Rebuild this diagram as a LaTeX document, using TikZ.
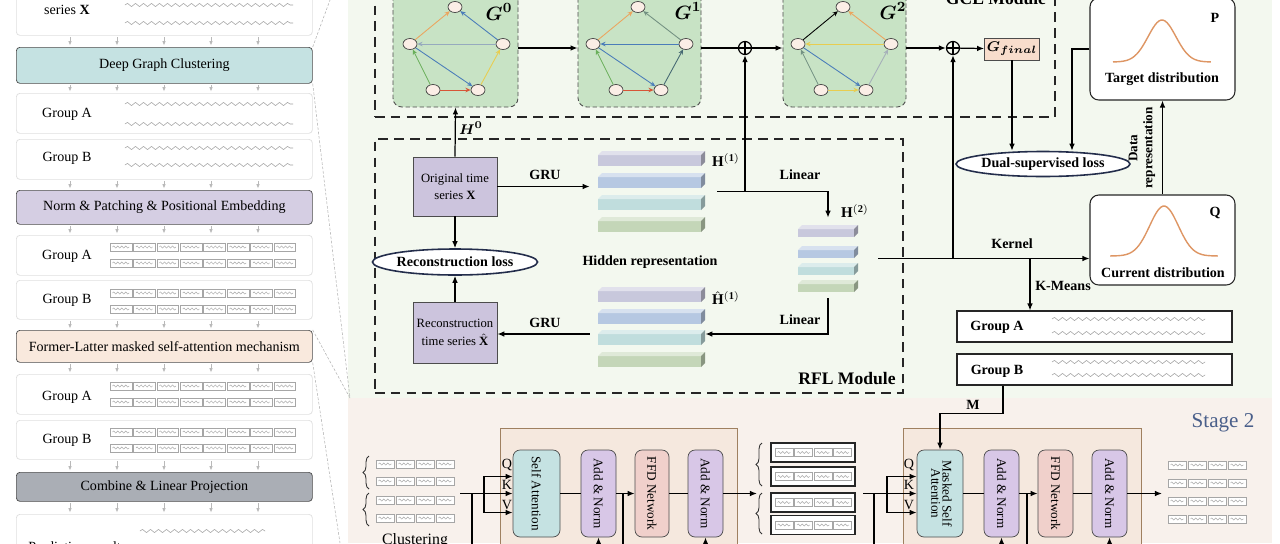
\documentclass[tikz,border=0pt]{standalone}
\usepackage{fontspec}
\setmainfont{Liberation Serif}
\usepackage{amsmath}
\usepackage{graphicx}
\usetikzlibrary{arrows.meta,positioning,shapes.geometric,decorations.pathmorphing,decorations.pathreplacing}

\newlength\unitpx
\setlength\unitpx{0.2mm}

\definecolor{greenbg}{RGB}{243,248,239}
\definecolor{beigebg}{RGB}{248,241,236}
\definecolor{blockbg}{RGB}{245,232,222}
\definecolor{tealbox}{RGB}{197,226,226}
\definecolor{lavbox}{RGB}{213,206,227}
\definecolor{peachbox}{RGB}{249,233,221}
\definecolor{greybox}{RGB}{170,174,181}
\definecolor{graphbg}{RGB}{200,227,197}
\definecolor{nodefill}{RGB}{251,238,230}
\definecolor{tsbox}{RGB}{204,196,221}
\definecolor{anbox}{RGB}{216,199,231}
\definecolor{ffdbox}{RGB}{240,208,203}
\definecolor{gfinal}{RGB}{248,221,204}
\definecolor{curve}{RGB}{222,150,100}
\definecolor{stagecol}{RGB}{74,95,138}
\definecolor{navy}{RGB}{35,45,75}
\definecolor{slabA}{RGB}{200,200,220}
\definecolor{slabB}{RGB}{182,200,226}
\definecolor{slabC}{RGB}{192,221,221}
\definecolor{slabD}{RGB}{196,214,184}
\definecolor{cOrg}{RGB}{235,165,95}
\definecolor{cBlu}{RGB}{75,125,185}
\definecolor{cGry}{RGB}{150,170,190}
\definecolor{cGrn}{RGB}{105,175,90}
\definecolor{cYel}{RGB}{232,205,80}
\definecolor{cRed}{RGB}{215,85,55}
\definecolor{cTeal}{RGB}{70,105,115}
\definecolor{cSage}{RGB}{115,145,130}
\definecolor{cLgr}{RGB}{165,175,185}

\newcommand{\wavy}[3]{\draw[wave] (#1,#3) -- (#2,#3);}
\newcommand{\patches}[4]{%
  \foreach \i in {1,...,#3}{%
    \draw[patch] ({#1+(\i-1)*#4},{#2-4}) rectangle ({#1+\i*#4-1.5},{#2+4});
    \draw[pwave] ({#1+(\i-1)*#4+2.5},#2) -- ({#1+\i*#4-4},#2);}}
\newcommand{\slab}[5]{%
  \fill[#5] (#1,{#2+4}) rectangle ({#3-4},#4);
  \fill[#5!55!white] (#1,{#2+4}) -- ({#1+4},#2) -- (#3,#2) -- ({#3-4},{#2+4}) -- cycle;
  \fill[#5!70!black] ({#3-4},{#2+4}) -- (#3,#2) -- (#3,{#4-4}) -- ({#3-4},#4) -- cycle;}

\begin{document}
\begin{tikzpicture}[x=0.2mm,y=-0.2mm,>={Latex[length=4pt,width=3.2pt]},
                    font=\fontsize{8}{9.5}\selectfont]
  \tikzstyle{every node}=[inner sep=0pt]
  \tikzstyle{panel}=[draw=gray!25,fill=white,rounded corners=2pt,minimum width=296\unitpx,anchor=north west]
  \tikzstyle{title}=[panel,draw=gray!60!black,line width=0.4pt]
  \tikzstyle{dtick}=[->,>={Latex[length=2.5pt,width=2pt]},draw=gray!55,line width=0.4pt]
  \tikzstyle{zoomline}=[draw=gray!60,line width=0.3pt,dash pattern=on 1.5pt off 1pt]
  \tikzstyle{module}=[draw=black!85,line width=1pt,dash pattern=on 5.5pt off 3.5pt]
  \tikzstyle{gpanel}=[draw=black!70,fill=graphbg,rounded corners=5pt,dash pattern=on 2.5pt off 1.5pt,line width=0.5pt,minimum height=118\unitpx]
  \tikzstyle{gnode}=[ellipse,draw=black!75,fill=nodefill,line width=0.4pt,minimum width=14\unitpx,minimum height=11\unitpx]
  \tikzstyle{gedge}=[-{Stealth[length=3pt,width=2.6pt]},line width=0.5pt]
  \tikzstyle{arr}=[->,line width=0.7pt]
  \tikzstyle{link}=[line width=0.7pt]
  \tikzstyle{oplus}=[circle,draw,line width=0.7pt,minimum size=13\unitpx,path picture={\draw[line width=0.6pt] (path picture bounding box.north) -- (path picture bounding box.south) (path picture bounding box.west) -- (path picture bounding box.east);}]
  \tikzstyle{tsnode}=[draw=black!70,fill=tsbox,line width=0.4pt,minimum width=84\unitpx,align=center,font=\fontsize{7.2}{10}\selectfont]
  \tikzstyle{loss}=[ellipse,draw=navy,line width=0.9pt,fill=white,font=\fontsize{8}{9}\selectfont\bfseries]
  \tikzstyle{distr}=[draw=black!85,line width=0.6pt,rounded corners=5pt,fill=white,minimum width=145\unitpx]
  \tikzstyle{grp}=[draw=black!85,line width=0.6pt,fill=white,minimum width=275\unitpx,minimum height=31\unitpx]
  \tikzstyle{encblock}=[draw=brown!50!gray,fill=blockbg,line width=0.4pt,minimum height=132\unitpx]
  \tikzstyle{lyr}=[draw=gray!60!black,line width=0.4pt,rounded corners=4pt,minimum height=87\unitpx,font=\fontsize{7.5}{8.5}\selectfont]
  \tikzstyle{outbox}=[draw=black!85,line width=0.8pt,fill=white,minimum width=84\unitpx,minimum height=19\unitpx]
  \tikzstyle{lbl}=[font=\fontsize{8}{9}\selectfont\bfseries]
  \tikzstyle{wave}=[draw=gray!75,line width=0.3pt,decorate,decoration={snake,amplitude=1.6\unitpx,segment length=8\unitpx}]
  \tikzstyle{patch}=[draw=gray!70,line width=0.3pt,fill=white]
  \tikzstyle{pwave}=[draw=gray!70,line width=0.25pt,decorate,decoration={snake,amplitude=1.1\unitpx,segment length=4\unitpx}]
  \tikzstyle{brc}=[draw=black!80,line width=0.5pt,decorate,decoration={brace,amplitude=6\unitpx}]

  \useasboundingbox (0,0) rectangle (1280,543);
  \clip (0,0) rectangle (1280,543);
  \fill[white] (0,0) rectangle (1280,543);
  \fill[greenbg] (348,0) rectangle (1272,398);
  \fill[beigebg] (348,398) rectangle (1272,543);

  % left overview
  \node[panel,minimum height=45\unitpx] (TS)  at (16,-10) {};
  \node[title,fill=tealbox,minimum height=36\unitpx] (DGC) at (16,47) {Deep Graph Clustering};
  \node[panel,minimum height=40\unitpx] (GA1) at (16,93) {};
  \node[panel,minimum height=40\unitpx] (GB1) at (16,139) {};
  \node[title,fill=lavbox,minimum height=34\unitpx] (NPE) at (16,190) {Norm \& Patching \& Positional Embedding};
  \node[panel,minimum height=40\unitpx] (GA2) at (16,235) {};
  \node[panel,minimum height=39\unitpx] (GB2) at (16,280) {};
  \node[title,fill=peachbox,minimum height=32\unitpx] (FLM) at (16,330) {Former-Latter masked self-attention mechanism};
  \node[panel,minimum height=40\unitpx] (GA3) at (16,374) {};
  \node[panel,minimum height=39\unitpx] (GB3) at (16,420) {};
  \node[title,fill=greybox,minimum height=29\unitpx] (CLP) at (16,472) {Combine \& Linear Projection};
  \node[panel,minimum height=40\unitpx] (PR)  at (16,514) {};

  \node (TSt)  at (67,10)  {series $\mathbf{X}$};
  \node (GA1t) at (67,114) {Group A};
  \node (GB1t) at (67,158) {Group B};
  \node (GA2t) at (67,256) {Group A};
  \node (GB2t) at (67,300) {Group B};
  \node (GA3t) at (67,397) {Group A};
  \node (GB3t) at (67,440) {Group B};
  \node[anchor=west] (PRt) at (28,547) {Prediction results};

  \wavy{125}{293}{5} \wavy{125}{293}{23}
  \wavy{125}{293}{104} \wavy{125}{293}{124}
  \wavy{125}{293}{148} \wavy{125}{293}{165}
  \wavy{140}{265}{531}
  \foreach \y in {247,263,293,309,386,402,432,448}
    \patches{110}{\y}{8}{23.4};

  \foreach \a/\b in {TS/DGC,DGC/GA1,GB1/NPE,NPE/GA2,GB2/FLM,FLM/GA3,GB3/CLP,CLP/PR}
    \foreach \dx in {54,101,148,195,242}
      \draw[dtick] ([xshift=\dx\unitpx,yshift=-1.5\unitpx]\a.south west) -- ([xshift=\dx\unitpx,yshift=1.5\unitpx]\b.north west);

  \draw[zoomline] (DGC.north east) -- (330,0);
  \draw[zoomline] (DGC.south east) -- (350,398);
  \draw[zoomline] (FLM.north east) -- (350,398);
  \draw[zoomline] (FLM.south east) -- (340,543);

  % GCL module
  \node[module,minimum width=680\unitpx,minimum height=127\unitpx] (GCL) at (715,53.5) {};
  \node[font=\fontsize{10}{11}\selectfont\bfseries] (GCLt) at (996,-1) {GCL Module};
  \node[gpanel,minimum width=125\unitpx] (G0) at (455.5,48) {};
  \node[gpanel,minimum width=123\unitpx] (G1) at (639.5,48) {};
  \node[gpanel,minimum width=123\unitpx] (G2) at (844.5,48) {};
  \node[font=\fontsize{11}{12}\selectfont] (G0t) at (499,12) {$\boldsymbol{G}^{\boldsymbol{0}}$};
  \node[font=\fontsize{11}{12}\selectfont] (G1t) at (688,11) {$\boldsymbol{G}^{\boldsymbol{1}}$};
  \node[font=\fontsize{11}{12}\selectfont] (G2t) at (893,11) {$\boldsymbol{G}^{\boldsymbol{2}}$};

  \foreach \g/\dx in {0/0,1/183,2/388}{
    \node[gnode] (G\g-t)  at (455+\dx,7)  {};
    \node[gnode] (G\g-l)  at (410+\dx,44) {};
    \node[gnode] (G\g-r)  at (503+\dx,44) {};
    \node[gnode] (G\g-bl) at (433+\dx,90) {};
    \node[gnode] (G\g-br) at (478+\dx,90) {};
  }
  \path[gedge] (G0-l)  edge[cOrg] (G0-t)
               (G0-r)  edge[cBlu] (G0-t)
               (G0-r)  edge[cGry] (G0-l)
               (G0-bl) edge[cGrn] (G0-l)
               (G0-l)  edge[cBlu] (G0-br)
               (G0-br) edge[cYel] (G0-r)
               (G0-bl) edge[cRed] (G0-br);
  \path[gedge] (G1-l)  edge[cOrg] (G1-t)
               (G1-r)  edge[cSage] (G1-t)
               (G1-r)  edge[cBlu] (G1-l)
               (G1-bl) edge[cGrn] (G1-l)
               (G1-l)  edge[cBlu] (G1-br)
               (G1-br) edge[cTeal] (G1-r)
               (G1-bl) edge[cRed] (G1-br);
  \path[gedge] (G2-l)  edge[black] (G2-t)
               (G2-r)  edge[cOrg] (G2-t)
               (G2-r)  edge[cYel] (G2-l)
               (G2-bl) edge[cSage] (G2-l)
               (G2-l)  edge[cBlu] (G2-br)
               (G2-br) edge[cLgr] (G2-r)
               (G2-bl) edge[cYel] (G2-br);

  \node[oplus] (OP1) at (745,48) {};
  \node[oplus] (OP2) at (953,48) {};
  \node[draw=black!70,fill=gfinal,line width=0.4pt,minimum width=55\unitpx,minimum height=22\unitpx] (GF) at (1012,49) {$\boldsymbol{G_{final}}$};
  \draw[arr]  (G0.east) -- (G1.west);
  \draw[link] (G1.east) -- (OP1);
  \draw[arr]  (OP1) -- (G2.west);
  \draw[arr]  (G2.east) -- (OP2);
  \draw[arr]  (OP2) -- (GF);

  % RFL module
  \node[module,minimum width=528\unitpx,minimum height=254\unitpx] (RFL) at (639,266) {};
  \node[font=\fontsize{10}{11}\selectfont\bfseries] (RFLt) at (847,379) {RFL Module};
  \node[tsnode,minimum height=59\unitpx] (OTS) at (455,186.5) {Original time\\series $\mathbf{X}$};
  \node[tsnode,minimum height=61\unitpx] (RTS) at (455,332.5) {Reconstruction\\time series $\hat{\mathbf{X}}$};
  \node[loss,minimum width=150\unitpx,minimum height=26\unitpx] (RL) at (455,262) {Reconstruction loss};

  \foreach \y/\cc in {151/slabA,173/slabB,195/slabC,217/slabD}
    \slab{598}{\y}{705}{\y+15}{\cc};
  \foreach \y/\cc in {287/slabA,309/slabB,330/slabC,352/slabD}
    \slab{598}{\y}{705}{\y+15}{\cc};
  \foreach \y/\cc in {225/slabA,246/slabB,263/slabC,280/slabD}
    \slab{798}{\y}{858}{\y+12}{\cc};
  \node[minimum width=107\unitpx,minimum height=81\unitpx] (H1) at (651.5,191.5) {};
  \node[minimum width=107\unitpx,minimum height=80\unitpx] (HH) at (651.5,327) {};
  \node[minimum width=60\unitpx,minimum height=67\unitpx] (H2) at (828,258.5) {};

  \node[font=\fontsize{8.5}{9}\selectfont] (H1t) at (726,160) {$\mathbf{H}^{\mathbf{(1)}}$};
  \node[font=\fontsize{8.5}{9}\selectfont] (HHt) at (726,298) {$\hat{\mathbf{H}}^{\mathbf{(1)}}$};
  \node[font=\fontsize{8.5}{9}\selectfont] (H2t) at (855,211) {$\mathbf{H}^{\mathbf{(2)}}$};
  \node[lbl] (HRt) at (650,262) {Hidden representation};
  \node[lbl] (GRUa) at (545,175) {GRU};
  \node[lbl] (GRUb) at (545,323) {GRU};
  \node[lbl] (LINa) at (800,175) {Linear};
  \node[lbl] (LINb) at (800,320) {Linear};
  \node[font=\fontsize{8}{9}\selectfont] (H0t) at (471,128) {$\boldsymbol{H}^{\boldsymbol{0}}$};

  \draw[arr] (OTS.north) -- (G0.south);
  \draw[arr] (OTS) -- (RL);
  \draw[arr] (RTS) -- (RL);
  \draw[arr,shorten >=8\unitpx] (OTS.east) -- (OTS.east -| H1.west);
  \draw[arr] ([xshift=12\unitpx]H1.east) -| ([yshift=7\unitpx]H2.north);
  \draw[arr] (OP1 |- H1.east) -- (OP1);
  \coordinate (hhe) at ([yshift=-7\unitpx]HH.east);
  \coordinate (hhw) at ([xshift=-8\unitpx,yshift=-7\unitpx]HH.west);
  \draw[arr] ([yshift=-6\unitpx]H2.south) |- (hhe);
  \draw[arr] (hhw) -- (hhw -| RTS.east);

  % distributions and groups
  \node[distr,minimum height=102\unitpx] (TD) at (1162.5,49) {};
  \node[distr,minimum height=90\unitpx] (CD) at (1162.5,240) {};
  \draw[curve,line width=0.8pt] plot[domain=-1:1,samples=50] ({1162+49*\x},{62-42*exp(-\x*\x/0.16)});
  \draw[curve,line width=0.8pt] plot[domain=-1:1,samples=50] ({1164+54*\x},{256-50*exp(-\x*\x/0.14)});
  \node[lbl] (TDt) at (1162,79) {Target distribution};
  \node[lbl] (CDt) at (1163,273) {Current distribution};
  \node[lbl] (Pt) at (1215,18) {P};
  \node[lbl] (Qt) at (1215,213) {Q};
  \node[loss,minimum width=155\unitpx,minimum height=25\unitpx] (DSL) at (1043,164) {Dual-supervised loss};
  \node[lbl,rotate=90,align=center,font=\fontsize{7.5}{8.5}\selectfont\bfseries] (DRt) at (1142,148) {Data\\representation};

  \draw[arr] (GF.south) -- (GF.south |- DSL.north);
  \draw[arr] (TD.west) -| ([xshift=29\unitpx]DSL.north);
  \draw[arr] (CD.north) -- (TD.south);
  \draw[arr] ([xshift=20\unitpx]H2.east) -- (H2.east -| CD.west);
  \draw[arr] (OP2 |- H2.east) -- (OP2);
  \node[lbl] (KERt) at (1012,244) {Kernel};
  \node[lbl] (KMt) at (1063,286) {K-Means};

  \node[grp] (GA) at (1094.5,326.5) {};
  \node[grp] (GB) at (1094.5,369.5) {};
  \node[lbl] (GAt) at (997,327) {Group A};
  \node[lbl] (GBt) at (997,371) {Group B};
  \wavy{1052}{1205}{319} \wavy{1052}{1205}{333}
  \wavy{1052}{1205}{362} \wavy{1052}{1205}{375}
  \draw[arr] (1030,0 |- H2.east) -- (1030,0 |- GA.north);

  % stage 2
  \node[font=\fontsize{12}{13}\selectfont,text=stagecol] (ST2) at (1223,423) {Stage 2};
  \node[encblock,minimum width=237\unitpx] (B1) at (618.5,494) {};
  \node[encblock,minimum width=238\unitpx] (B2) at (1022,494) {};
  \node[lyr,fill=tealbox,minimum width=47\unitpx] (SA)   at (536.5,493.5) {\rotatebox{-90}{Self Attention}};
  \node[lyr,fill=anbox,minimum width=35\unitpx]   (AN1)  at (598.5,493.5) {\rotatebox{-90}{Add \& Norm}};
  \node[lyr,fill=ffdbox,minimum width=34\unitpx]  (FFD1) at (652,493.5)   {\rotatebox{-90}{FFD Network}};
  \node[lyr,fill=anbox,minimum width=35\unitpx]   (AN2)  at (705.5,493.5) {\rotatebox{-90}{Add \& Norm}};
  \node[lyr,fill=tealbox,minimum width=46\unitpx] (MSA)  at (940,493.5)   {\rotatebox{-90}{\begin{tabular}{@{}c@{}}Masked Self\\[-2pt]Attention\end{tabular}}};
  \node[lyr,fill=anbox,minimum width=35\unitpx]   (AN3)  at (1001.5,493.5) {\rotatebox{-90}{Add \& Norm}};
  \node[lyr,fill=ffdbox,minimum width=35\unitpx]  (FFD2) at (1055.5,493.5) {\rotatebox{-90}{FFD Network}};
  \node[lyr,fill=anbox,minimum width=35\unitpx]   (AN4)  at (1109.5,493.5) {\rotatebox{-90}{Add \& Norm}};

  \draw[arr] ([xshift=-91.5\unitpx]GB.south) -- ++(0,28) -| (MSA.north);
  \node[lbl] (Mt) at (973,405) {M};

  % inputs of block 1
  \foreach \y in {464,481,500,518}
    \patches{376}{\y}{4}{20};
  \draw[brc] (369,489) -- (369,456);
  \draw[brc] (369,526) -- (369,493);
  \node[font=\fontsize{9}{10}\selectfont] (CLt) at (415,541) {Clustering};

  \coordinate (in1) at (460,493.5);
  \coordinate (br1) at (484,493.5);
  \coordinate (rs1) at (472,493.5);
  \draw[arr] (in1) -- (SA.west);
  \draw[arr] (br1) |- ([yshift=17\unitpx]SA.west);
  \draw[arr] (br1) |- ([yshift=-19\unitpx]SA.west);
  \draw[link] (rs1) -- ++(0,60);
  \node (Q1) at (507,465) {Q};
  \node (K1) at (507,485) {K};
  \node (V1) at (507,505) {V};
  \draw[link] (SA) -- (AN1);
  \draw[arr]  (AN1) -- (FFD1);
  \draw[link] (FFD1) -- (AN2);
  \draw[link] (623,493.5) -- ++(0,60);
  \draw[arr] ([yshift=-15\unitpx]AN1.south) -- (AN1.south);
  \draw[arr] ([yshift=-15\unitpx]AN2.south) -- (AN2.south);
  \coordinate (out1) at (757,493.5);
  \draw[arr] (AN2.east) -- (out1);

  % intermediate groups
  \foreach \n/\y in {1/452.5,2/476.5,3/502.5,4/525}{
    \node[outbox] (OB\n) at (813,\y) {};
    \patches{775}{\y}{4}{19.5}
  }
  \draw[brc] (762,486) -- (762,443);
  \draw[brc] (762,534) -- (762,493);

  % inputs of block 2
  \coordinate (in2) at (863,493.5);
  \coordinate (br2) at (887,493.5);
  \coordinate (rs2) at (874,493.5);
  \draw[arr] (in2) -- (MSA.west);
  \draw[arr] (br2) |- ([yshift=17\unitpx]MSA.west);
  \draw[arr] (br2) |- ([yshift=-19\unitpx]MSA.west);
  \draw[link] (rs2) -- ++(0,60);
  \node (Q2) at (909,465) {Q};
  \node (K2) at (909,485) {K};
  \node (V2) at (909,505) {V};
  \draw[link] (MSA) -- (AN3);
  \draw[arr]  (AN3) -- (FFD2);
  \draw[link] (FFD2) -- (AN4);
  \draw[link] (1027,493.5) -- ++(0,60);
  \draw[arr] ([yshift=-15\unitpx]AN3.south) -- (AN3.south);
  \draw[arr] ([yshift=-15\unitpx]AN4.south) -- (AN4.south);
  \coordinate (out2) at (1162,493.5);
  \draw[arr] (AN4.east) -- (out2);
  \foreach \y in {465,483,501,519}
    \patches{1168}{\y}{4}{20};
\end{tikzpicture}
\end{document}
